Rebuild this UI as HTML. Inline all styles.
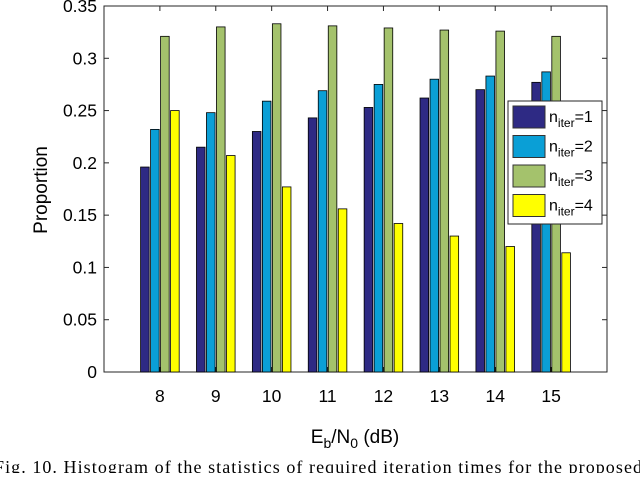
<!DOCTYPE html>
<html><head><meta charset="utf-8"><style>
body{margin:0;background:#fff;width:640px;height:473px;overflow:hidden}
svg text{font-family:"Liberation Sans",sans-serif}
svg text.cap{font-family:"Liberation Serif",serif}
</style></head><body>
<svg id="chart" width="640" height="473" xmlns="http://www.w3.org/2000/svg">
<g id="plot"></g>
</svg>
<script>
const categories=[8,9,10,11,12,13,14,15];
const seriesN1=[0.196,0.215,0.230,0.243,0.253,0.262,0.270,0.277];
const seriesN2=[0.232,0.248,0.259,0.269,0.275,0.280,0.283,0.287];
const seriesN3=[0.321,0.330,0.333,0.331,0.329,0.327,0.326,0.321];
const seriesN4=[0.250,0.207,0.177,0.156,0.142,0.130,0.120,0.114];
const yTicks=[0,0.05,0.1,0.15,0.2,0.25,0.3,0.35];
const yTickLabels=["0","0.05","0.1","0.15","0.2","0.25","0.3","0.35"];
const seriesNames=["1","2","3","4"];
const seriesColors=["#2e2a84","#0a9fd6","#a4c26c","#ffff00"];
const NS="http://www.w3.org/2000/svg";
const L=104,R=607,T=6,B=372;
const xs=v=>L+(v-7)/9*(R-L);
const ys=v=>B-v/0.35*(B-T);
const g=document.getElementById('plot');
function mk(tag,attrs,parent){const e=document.createElementNS(NS,tag);for(const k in attrs)e.setAttribute(k,attrs[k]);(parent||g).appendChild(e);return e;}
const box=mk('rect',{x:L,y:T,width:R-L,height:B-T,fill:'#fff',stroke:'#262626','stroke-width':1});


yTicks.forEach((v,i)=>{
  const y=ys(v);
  mk('line',{x1:L,x2:L+5,y1:y,y2:y,stroke:'#262626'});
  mk('line',{x1:R,x2:R-5,y1:y,y2:y,stroke:'#262626'});
  const t=mk('text',{x:L-7,y:y+6,'text-anchor':'end','font-size':17.5,fill:'#000'});
  t.textContent=yTickLabels[i];
  
  
});
const all=[seriesN1,seriesN2,seriesN3,seriesN4];
const bw=8.6,step=10;
categories.forEach((c,ci)=>{
  const cx=xs(c);
  mk('line',{x1:cx,x2:cx,y1:T,y2:T+5,stroke:'#262626'});
  mk('line',{x1:cx,x2:cx,y1:B,y2:B-5,stroke:'#262626'});
  all.forEach((s,si)=>{
    const x=cx+(si-1.5)*step-bw/2;
    const r=mk('rect',{x:x,y:ys(s[ci]),width:bw,height:B-ys(s[ci]),fill:seriesColors[si],stroke:'#000','stroke-width':0.8});
    
    
  });
  const t=mk('text',{x:cx,y:B+30,'text-anchor':'middle','font-size':17.5,fill:'#000'});
  t.textContent=c;
  
  
});
const lg=mk('g',{});


mk('rect',{x:508,y:101,width:94,height:123,fill:'#fff',stroke:'#262626'},lg);
seriesNames.forEach((n,i)=>{
  const y=117+i*29.5;
  const e=mk('g',{},lg);
  
  
  mk('rect',{x:513,y:y-11,width:32,height:22,fill:seriesColors[i],stroke:'#333'},e);
  const t=mk('text',{x:549,y:y+5,'font-size':16,fill:'#000'},e);
  t.innerHTML='n<tspan dy="5" font-size="12">iter</tspan><tspan dy="-5">='+n+'</tspan>';
});
</script>
<svg style="position:absolute;left:0;top:0" width="640" height="473" xmlns="http://www.w3.org/2000/svg">
<text transform="translate(47,190) rotate(-90)" text-anchor="middle" font-size="19">Proportion</text>
<text x="355" y="443" text-anchor="middle" font-size="19">E<tspan dy="5" font-size="14">b</tspan><tspan dy="-5">/N</tspan><tspan dy="5" font-size="14">0</tspan><tspan dy="-5"> (dB)</tspan></text>
<text class="cap" x="-6" y="473" font-size="18" textLength="648" lengthAdjust="spacing">Fig. 10.   Histogram of the statistics of required iteration times for the proposed</text>
</svg>
</body></html>
